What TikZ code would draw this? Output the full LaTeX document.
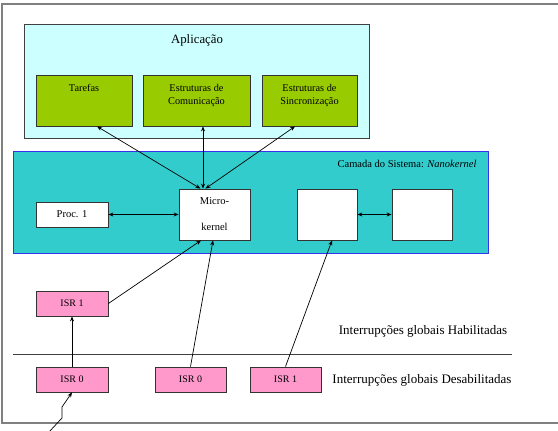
\documentclass[tikz,border=0pt]{standalone}
\usepackage{fontspec}
\setmainfont{Liberation Serif}
\usetikzlibrary{arrows.meta,calc}
\definecolor{appfill}{HTML}{CCFFFF}
\definecolor{grn}{HTML}{99CC00}
\definecolor{teal2}{HTML}{33CCCC}
\definecolor{pnk}{HTML}{FF99CC}
\definecolor{sysborder}{HTML}{3333EE}
\definecolor{frm}{HTML}{808080}
\begin{document}
\begin{tikzpicture}[x=1pt,y=-1pt,
  box/.style={draw=black!80,line width=0.8pt,inner sep=0pt,anchor=center},
  greenbox/.style={box,fill=grn,minimum height=51pt},
  whitebox/.style={box,fill=white,minimum height=51pt,minimum width=60pt},
  isrbox/.style={box,fill=pnk,minimum height=25pt,minimum width=72pt,font=\fontsize{10}{12}\selectfont},
  toplabel/.style={align=center,anchor=north,yshift=-6pt,font=\fontsize{10.3}{13}\selectfont},
  arr/.style={-{Stealth[length=5pt,width=4pt]},line width=0.7pt},
  darr/.style={{Stealth[length=5pt,width=4pt]}-{Stealth[length=5pt,width=4pt]},line width=0.7pt},
  bigtext/.style={font=\fontsize{13}{15}\selectfont}]
\useasboundingbox (0,0) rectangle (558,431);
\draw[frm,line width=1.5pt] (2,4) rectangle (565,423);
% application
\node[box,draw=black!75,fill=appfill,minimum width=345pt,minimum height=114pt] (app) at (196.5,81) {};
\node[font=\fontsize{12.8}{15}\selectfont] (apptxt) at (197,40) {Aplicação};
\node[greenbox,minimum width=96pt,label={[toplabel]north:Tarefas}] (tar) at (84,100.5) {};
\node[greenbox,minimum width=107pt,label={[toplabel]north:Estruturas de\\Comunicação}] (com) at (196.5,100.5) {};
\node[greenbox,minimum width=95pt,label={[toplabel]north:Estruturas de\\Sincronização}] (sin) at (309.5,100.5) {};
% system layer
\node[box,draw=sysborder,line width=1pt,fill=teal2,minimum width=475pt,minimum height=102pt] (sys) at (250.5,202) {};
\node[anchor=east,font=\fontsize{10.5}{12}\selectfont] (systxt) at (480,164) {Camada do Sistema: \textit{Nanokernel}};
\node[box,fill=white,minimum width=72pt,minimum height=25pt,font=\fontsize{10.5}{12}\selectfont] (proc) at (72,214.5) {Proc. 1};
\node[whitebox,minimum width=71pt,align=center,font=\fontsize{10.5}{12}\selectfont] (micro) at (214.5,214.5) {Micro-\\[14pt]kernel};
\node[whitebox] (b3) at (327,214.5) {};
\node[whitebox] (b4) at (422,214.5) {};
% ISRs
\node[isrbox] (isr1a) at (72,303.5) {ISR 1};
\node[isrbox] (isr0a) at (72,379.5) {ISR 0};
\node[isrbox,minimum width=71pt] (isr0b) at (190.5,379.5) {ISR 0};
\node[isrbox,minimum width=71pt] (isr1b) at (285.5,379.5) {ISR 1};
\coordinate (sepL) at (13,354);
\coordinate (sepR) at (512,354);
\draw[black!75,line width=0.8pt] (sepL) -- (sepR);
\node[bigtext] (hab) at (423,331) {Interrupções globais Habilitadas};
\node[bigtext] (des) at (422,380) {Interrupções globais Desabilitadas};
% connectors
\draw[darr] ([xshift=13pt]tar.south) -- ([xshift=-14pt]micro.north);
\draw[darr] ([xshift=6.5pt]com.south) -- ([xshift=-11.5pt]micro.north);
\draw[darr] ([xshift=-14.5pt]sin.south) -- ([xshift=-9pt]micro.north);
\draw[darr] (proc.east) -- (micro.west);
\draw[darr] (b3.east) -- (b4.west);
\draw[arr] (isr1a.east) -- ([xshift=-13.5pt]micro.south);
\draw[arr] (isr0b.north) -- ([xshift=-1.5pt]micro.south);
\draw[arr] (isr1b.north) -- ([xshift=5pt]b3.south);
\draw[arr] (isr0a.north) -- (isr1a.south);
\coordinate (bolt) at (49,432);
\draw[arr] (bolt) -- (62,418) -- (62,407) -- (isr0a.south);
\end{tikzpicture}
\end{document}
